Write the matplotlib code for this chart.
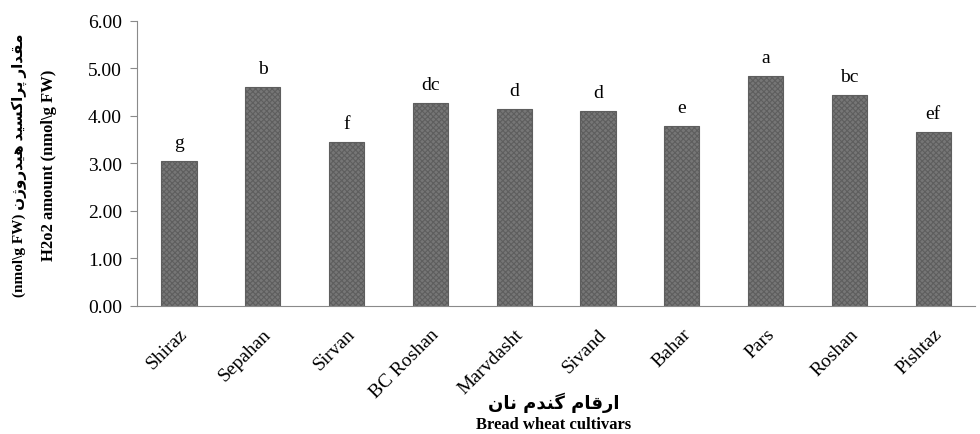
import matplotlib
matplotlib.use("Agg")
import matplotlib.pyplot as plt
import numpy as np

cultivars = ["Shiraz", "Sepahan", "Sirvan", "BC Roshan", "Marvdasht",
             "Sivand", "Bahar", "Pars", "Roshan", "Pishtaz"]
h2o2 = [3.05, 4.61, 3.45, 4.27, 4.15, 4.10, 3.79, 4.84, 4.44, 3.66]
groups = ["g", "b", "f", "dc", "d", "d", "e", "a", "bc", "ef"]
yticks = [0, 1, 2, 3, 4, 5, 6]

# Persian captions, written in shaped presentation forms (visual order)
fa_xlabel = "\uFEE5\uFE8E\uFEE7 \uFEE1\uFEAA\uFEE8\uFB94 \uFEE1\uFE8E\uFED7\uFEAD\uFE8D"
fa_ylabel = ("\uFEE5\uFB8A\uFEED\uFEAD\uFEAA\uFBFF\uFEEB "
             "\uFEAA\uFBFF\uFEB4\uFB90\uFE8D\uFEAE\uFB58 "
             "\uFEAD\uFE8D\uFEAA\uFED8\uFEE3")

serif = ["Liberation Serif", "DejaVu Sans"]
plt.rcParams["font.family"] = serif
plt.rcParams["hatch.color"] = "#161616"
plt.rcParams["hatch.linewidth"] = 0.8

fig = plt.figure(figsize=(9.8, 4.35), dpi=100)
ax = fig.add_axes([0.14, 0.295, 0.855, 0.655])

x = np.arange(len(cultivars))
ax.bar(x, h2o2, width=0.42, color="#767676", edgecolor="#5e5e5e",
       linewidth=0.8, hatch="xxxxxx")

for xi, v, g in zip(x, h2o2, groups):
    ax.text(xi, v + 0.2, g, ha="center", va="bottom", fontsize=14)

ax.set_xlim(-0.5, len(cultivars) - 0.5)
ax.set_ylim(0, 6)
ax.set_yticks(yticks)
ax.set_yticklabels([f"{t:.2f}" for t in yticks], fontsize=14)
ax.set_xticks(x)
ax.set_xticklabels(cultivars, rotation=45, ha="right", rotation_mode="anchor",
                   fontsize=14)
ax.tick_params(axis="x", length=0, pad=14)
ax.tick_params(axis="y", length=5, color="#8a8a8a", pad=6)

for s in ["top", "right"]:
    ax.spines[s].set_visible(False)
ax.spines["left"].set_color("#8a8a8a")
ax.spines["bottom"].set_color("#8a8a8a")

fig.text(0.565, 0.075, fa_xlabel, ha="center", va="center", fontsize=13,
         fontweight="bold", family=["DejaVu Sans"])
fig.text(0.565, 0.022, "Bread wheat cultivars", ha="center", va="center",
         fontsize=12, fontweight="bold", family=serif)

fig.text(0.02, 0.62, "(nmol\\g FW) " + fa_ylabel, rotation=90, ha="center",
         va="center", fontsize=11, fontweight="bold",
         family=["Liberation Serif", "DejaVu Sans"])
fig.text(0.05, 0.62, "H2o2 amount (nmol\\g FW)", rotation=90, ha="center",
         va="center", fontsize=12, fontweight="bold", family=serif)

fig.savefig("out.png", dpi=100)
